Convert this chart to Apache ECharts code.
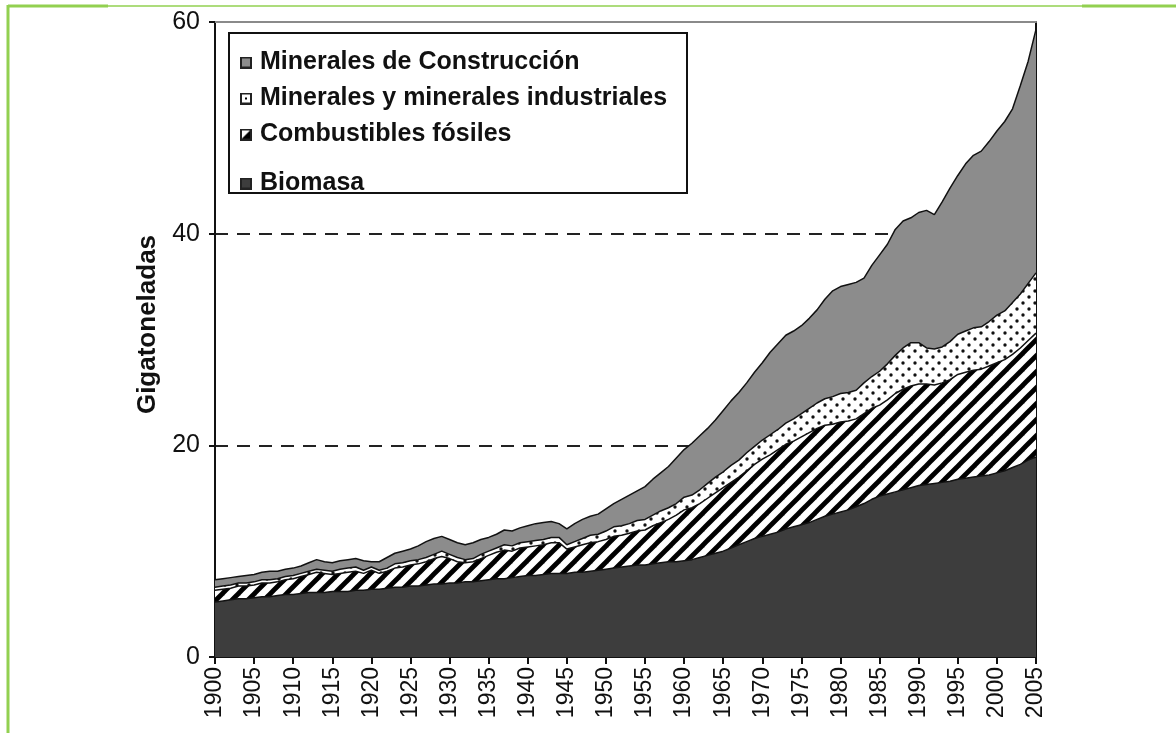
<!DOCTYPE html>
<html>
<head>
<meta charset="utf-8">
<script src="https://cdn.jsdelivr.net/npm/echarts@6/dist/echarts.min.js"></script>
<style>
  html, body { margin: 0; padding: 0; background: #fff; }
  #main { width: 1176px; height: 733px; }
</style>
</head>
<body>
<div id="main"></div>
<script>
// años 1900-2005
var years = [];
for (var y = 1900; y <= 2005; y++) years.push(String(y));

var yTicks = [0, 20, 40, 60];

// Biomasa (Gt)
var biomasa = [
  5.2, 5.3, 5.4, 5.5, 5.5, 5.6, 5.7, 5.7, 5.8, 5.9,
  5.9, 6.0, 6.1, 6.1, 6.1, 6.2, 6.2, 6.2, 6.3, 6.3,
  6.4, 6.4, 6.5, 6.6, 6.6, 6.7, 6.7, 6.8, 6.9, 6.9,
  7.0, 7.0, 7.1, 7.1, 7.2, 7.3, 7.4, 7.4, 7.5, 7.6,
  7.7, 7.7, 7.8, 7.9, 7.9, 7.9, 8.0, 8.0, 8.1, 8.2,
  8.3, 8.4, 8.5, 8.6, 8.7, 8.7, 8.8, 8.9, 9.0, 9.0,
  9.1, 9.2, 9.4, 9.6, 9.8, 10.0, 10.3, 10.6, 10.9, 11.2,
  11.4, 11.6, 11.8, 12.1, 12.3, 12.5, 12.7, 13.0, 13.3, 13.5,
  13.7, 13.9, 14.2, 14.5, 14.9, 15.2, 15.4, 15.6, 15.8, 16.0,
  16.2, 16.3, 16.4, 16.5, 16.6, 16.8, 16.9, 17.0, 17.1, 17.2,
  17.4, 17.6, 17.9, 18.2, 18.6, 18.9
];

// Combustibles fósiles
var fosiles = [
  1.1, 1.1, 1.1, 1.2, 1.2, 1.2, 1.3, 1.3, 1.3, 1.4,
  1.5, 1.6, 1.7, 1.9, 1.8, 1.6, 1.7, 1.8, 1.8, 1.6,
  1.8, 1.5, 1.6, 1.8, 1.9, 2.0, 2.1, 2.2, 2.4, 2.6,
  2.3, 2.0, 1.8, 1.9, 2.1, 2.3, 2.5, 2.7, 2.5, 2.7,
  2.7, 2.8, 2.8, 2.9, 2.9, 2.3, 2.4, 2.6, 2.7, 2.7,
  2.8, 3.0, 3.0, 3.1, 3.2, 3.3, 3.6, 3.8, 4.0, 4.4,
  4.8, 4.9, 5.1, 5.4, 5.7, 6.0, 6.2, 6.4, 6.7, 7.0,
  7.3, 7.5, 7.8, 8.0, 8.1, 8.3, 8.5, 8.6, 8.6, 8.5,
  8.5, 8.4, 8.3, 8.5, 8.6, 8.6, 8.9, 9.3, 9.5, 9.6,
  9.6, 9.5, 9.3, 9.4, 9.6, 9.9, 10.0, 10.1, 10.1, 10.3,
  10.4, 10.5, 10.7, 11.0, 11.3, 11.7
];

// Minerales y minerales industriales
var minerales = [
  0.3, 0.3, 0.3, 0.3, 0.3, 0.3, 0.3, 0.3, 0.3, 0.3,
  0.3, 0.3, 0.3, 0.3, 0.3, 0.3, 0.4, 0.4, 0.4, 0.3,
  0.3, 0.3, 0.3, 0.4, 0.4, 0.4, 0.4, 0.4, 0.4, 0.5,
  0.4, 0.4, 0.3, 0.3, 0.4, 0.4, 0.4, 0.5, 0.5, 0.5,
  0.5, 0.5, 0.5, 0.5, 0.5, 0.4, 0.5, 0.6, 0.7, 0.7,
  0.8, 0.9, 0.9, 0.9, 1.0, 1.0, 1.0, 1.1, 1.1, 1.1,
  1.2, 1.2, 1.3, 1.4, 1.5, 1.5, 1.6, 1.6, 1.7, 1.7,
  1.8, 1.9, 1.9, 2.0, 2.1, 2.2, 2.3, 2.4, 2.5, 2.6,
  2.7, 2.7, 2.7, 2.9, 3.0, 3.2, 3.4, 3.6, 3.9, 4.1,
  3.9, 3.4, 3.4, 3.4, 3.6, 3.8, 3.9, 4.0, 4.0, 4.2,
  4.5, 4.6, 4.9, 5.1, 5.4, 5.7
];

// Minerales de Construcción
var construccion = [
  0.7, 0.7, 0.7, 0.6, 0.7, 0.7, 0.7, 0.8, 0.7, 0.7,
  0.7, 0.7, 0.8, 0.9, 0.8, 0.8, 0.8, 0.8, 0.8, 0.9,
  0.5, 0.8, 1.0, 1.0, 1.1, 1.1, 1.3, 1.5, 1.5, 1.4,
  1.4, 1.4, 1.4, 1.5, 1.4, 1.3, 1.3, 1.4, 1.4, 1.4,
  1.5, 1.6, 1.6, 1.5, 1.3, 1.5, 1.7, 1.8, 1.8, 1.9,
  2.1, 2.2, 2.5, 2.7, 2.8, 3.1, 3.4, 3.6, 3.9, 4.3,
  4.5, 4.9, 5.1, 5.2, 5.4, 5.8, 6.1, 6.4, 6.6, 7.0,
  7.3, 7.8, 8.1, 8.3, 8.3, 8.3, 8.5, 8.8, 9.4, 10.0,
  10.1, 10.2, 10.2, 9.9, 10.5, 11.0, 11.3, 11.9, 12.0, 11.8,
  12.3, 13.0, 12.7, 13.7, 14.5, 15.0, 15.8, 16.3, 16.6, 17.0,
  17.4, 17.9, 18.3, 19.7, 21.0, 23.0
];

var names = ['Biomasa', 'Combustibles fósiles', 'Minerales y minerales industriales', 'Minerales de Construcción'];

// tramas
function stripes() {
  var c = document.createElement('canvas');
  c.width = 16; c.height = 16;
  var ctx = c.getContext('2d');
  ctx.fillStyle = '#fff';
  ctx.fillRect(0, 0, 16, 16);
  ctx.strokeStyle = '#000';
  ctx.lineWidth = 4.8;
  for (var k = -1; k <= 1; k++) {
    ctx.beginPath();
    ctx.moveTo(k * 16 - 2, 18);
    ctx.lineTo(k * 16 + 18, -2);
    ctx.stroke();
  }
  return c;
}
function dots() {
  var c = document.createElement('canvas');
  c.width = 12; c.height = 12;
  var ctx = c.getContext('2d');
  ctx.fillStyle = '#fff';
  ctx.fillRect(0, 0, 12, 12);
  ctx.fillStyle = '#111';
  [[3, 3], [9, 9]].forEach(function (p) {
    ctx.beginPath();
    ctx.arc(p[0], p[1], 1.7, 0, Math.PI * 2);
    ctx.fill();
  });
  return c;
}
// iconos de la leyenda
function icon(kind) {
  var c = document.createElement('canvas');
  c.width = 12; c.height = 12;
  var ctx = c.getContext('2d');
  ctx.fillStyle = kind === 'bio' ? '#3d3d3d' : kind === 'con' ? '#8c8c8c' : '#fff';
  ctx.fillRect(0, 0, 12, 12);
  if (kind === 'min') {
    ctx.fillStyle = '#000';
    ctx.fillRect(5, 5, 2, 2);
  }
  if (kind === 'fos') {
    ctx.fillStyle = '#000';
    ctx.beginPath();
    ctx.moveTo(0, 12); ctx.lineTo(12, 0); ctx.lineTo(12, 12); ctx.closePath();
    ctx.fill();
  }
  ctx.strokeStyle = '#222';
  ctx.lineWidth = 2;
  ctx.strokeRect(1, 1, 10, 10);
  return 'image://' + c.toDataURL();
}

var fills = [
  '#3d3d3d',
  { image: stripes(), repeat: 'repeat' },
  { image: dots(), repeat: 'repeat' },
  '#8c8c8c'
];
var values = [biomasa, fosiles, minerales, construccion];

var series = names.map(function (n, i) {
  return {
    name: n,
    type: 'line',
    stack: 'total',
    data: values[i],
    symbol: 'none',
    showSymbol: false,
    lineStyle: { color: '#111', width: 1.5 },
    itemStyle: { color: i === 1 ? '#000' : i === 2 ? '#fff' : fills[i] },
    areaStyle: { color: fills[i], opacity: 1 },
    emphasis: { disabled: true },
    animation: false
  };
});

var chart = echarts.init(document.getElementById('main'));
var font = 'Liberation Sans, Arial, sans-serif';
var legendText = { fontFamily: font, fontSize: 25, fontWeight: 'bold', color: '#111', padding: [0, 0, 0, 3] };

chart.setOption({
  backgroundColor: '#fff',
  animation: false,
  grid: { left: 215, right: 140, top: 22, bottom: 76 },
  legend: [{
    orient: 'vertical',
    left: 240,
    top: 50,
    padding: 0,
    itemGap: 11,
    itemWidth: 12,
    itemHeight: 12,
    selectedMode: false,
    textStyle: legendText,
    data: [
      { name: names[3], icon: icon('con') },
      { name: names[2], icon: icon('min') },
      { name: names[1], icon: icon('fos') }
    ]
  }, {
    orient: 'vertical',
    left: 240,
    top: 171,
    padding: 0,
    itemWidth: 12,
    itemHeight: 12,
    selectedMode: false,
    textStyle: legendText,
    data: [{ name: names[0], icon: icon('bio') }]
  }],
  graphic: [
    // recuadro de la leyenda
    { type: 'rect', shape: { x: 229, y: 33, width: 458, height: 160 }, style: { fill: 'none', stroke: '#111', lineWidth: 2 }, z: 10 },
    // marco verde de la página
    { type: 'line', shape: { x1: 8, y1: 6, x2: 1176, y2: 6 }, style: { stroke: '#92d050', lineWidth: 1.5 } },
    { type: 'line', shape: { x1: 8, y1: 6, x2: 108, y2: 6 }, style: { stroke: '#92d050', lineWidth: 3 } },
    { type: 'line', shape: { x1: 1082, y1: 6, x2: 1176, y2: 6 }, style: { stroke: '#92d050', lineWidth: 3 } },
    { type: 'line', shape: { x1: 8, y1: 5, x2: 8, y2: 733 }, style: { stroke: '#92d050', lineWidth: 3 } }
  ],
  xAxis: [{
    type: 'category',
    data: years,
    boundaryGap: false,
    axisLine: { lineStyle: { color: '#111', width: 2 } },
    axisTick: { interval: function (i) { return i % 5 === 0; }, length: 7, lineStyle: { color: '#111', width: 2 } },
    axisLabel: {
      interval: function (i) { return i % 5 === 0; },
      rotate: 90,
      margin: 10,
      fontFamily: font,
      fontSize: 23,
      color: '#111'
    },
    splitLine: { show: false }
  }, {
    type: 'category',
    data: years,
    position: 'top',
    boundaryGap: false,
    axisLine: { show: true, onZero: false, lineStyle: { color: '#8a8a8a', width: 2 } },
    axisTick: { show: false },
    axisLabel: { show: false },
    splitLine: { show: false }
  }],
  yAxis: [{
    type: 'value',
    min: yTicks[0],
    max: yTicks[yTicks.length - 1],
    interval: 20,
    name: 'Gigatoneladas',
    nameLocation: 'middle',
    nameGap: 54,
    nameTextStyle: { fontFamily: font, fontSize: 26, fontWeight: 'bold', color: '#111', padding: [0, 0, 0, 30] },
    axisLine: { show: true, lineStyle: { color: '#111', width: 2 } },
    axisTick: { show: true, length: 6, lineStyle: { color: '#111', width: 2 } },
    axisLabel: { fontFamily: font, fontSize: 25, color: '#111', margin: 15 },
    splitLine: {
      show: true,
      showMinLine: false,
      showMaxLine: false,
      lineStyle: { color: '#222', width: 2, type: [13, 9] }
    }
  }, {
    type: 'value',
    min: yTicks[0],
    max: yTicks[yTicks.length - 1],
    interval: 20,
    position: 'right',
    axisLine: { show: true, onZero: false, lineStyle: { color: '#111', width: 2 } },
    axisTick: { show: false },
    axisLabel: { show: false },
    splitLine: { show: false }
  }],
  series: series
});
</script>
</body>
</html>
